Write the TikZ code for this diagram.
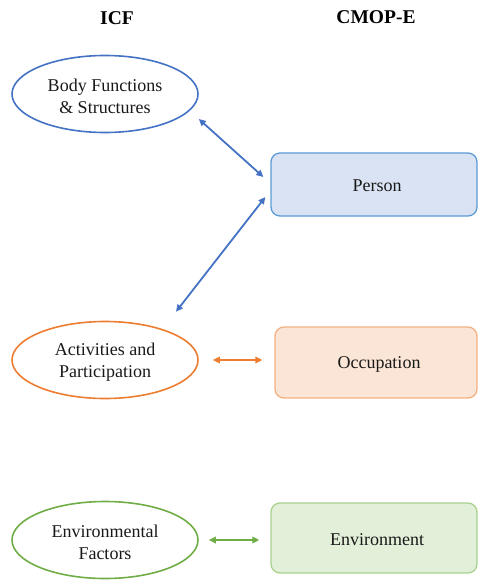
\documentclass[tikz,border=0pt]{standalone}
\usepackage{fontspec}
\setmainfont{Liberation Serif}
\usetikzlibrary{shapes.geometric,arrows.meta}
\definecolor{blueline}{HTML}{4472C4}
\definecolor{bluebox}{HTML}{DAE3F3}
\definecolor{blueedge}{HTML}{5B9BD5}
\definecolor{orangeline}{HTML}{ED7D31}
\definecolor{orangebox}{HTML}{FBE5D6}
\definecolor{orangeedge}{HTML}{F4B183}
\definecolor{greenline}{HTML}{70AD47}
\definecolor{greenbox}{HTML}{E2F0D9}
\definecolor{greenedge}{HTML}{A9D18E}
\tikzset{
  icf/.style={ellipse, draw, line width=1.6pt, minimum width=186pt, minimum height=77pt, inner sep=0pt, align=center, font=\fontsize{18}{22}\selectfont, text=black!90},
  cmop/.style={rectangle, draw, line width=1.3pt, rounded corners=9pt, inner sep=0pt, font=\fontsize{18}{22}\selectfont, text=black!90},
  title/.style={font=\fontsize{19.5}{23}\selectfont\bfseries},
  link/.style={line width=1.8pt, {Triangle[length=7pt,width=6.5pt]}-{Triangle[length=7pt,width=6.5pt]}}
}
\begin{document}
\begin{tikzpicture}[x=1pt,y=-1pt]
\clip (0,0) rectangle (478,580);
\useasboundingbox (0,0) rectangle (478,580);
\node[title] (ticf) at (117,18) {ICF};
\node[title] (tcmop) at (376,17) {CMOP-E};
\node[icf, draw=blueline] (b) at (105,94) {};
\node[align=center, font=\fontsize{18}{22}\selectfont, text=black!90] (bt) at (105,96) {Body Functions\\\& Structures};
\node[icf, draw=orangeline] (a) at (105,360) {};
\node[align=center, font=\fontsize{18}{22}\selectfont, text=black!90] (at) at (105,362) {Activities and\\Participation};
\node[icf, draw=greenline] (e) at (105,540) {};
\node[align=center, font=\fontsize{18}{22}\selectfont, text=black!90] (et) at (105,542) {Environmental\\Factors};
\node[cmop, draw=blueedge, fill=bluebox, minimum width=206pt, minimum height=63pt] (p) at (374,184.5) {};
\node[font=\fontsize{18}{22}\selectfont, text=black!90] (pt) at (377,186) {Person};
\node[cmop, draw=orangeedge, fill=orangebox, minimum width=202pt, minimum height=71pt] (o) at (376,362.5) {};
\node[font=\fontsize{18}{22}\selectfont, text=black!90] (ot) at (379,364) {Occupation};
\node[cmop, draw=greenedge, fill=greenbox, minimum width=206pt, minimum height=70pt] (v) at (374,538) {};
\node[font=\fontsize{18}{22}\selectfont, text=black!90] (vt) at (377,540) {Environment};
\draw[link, blueline] ([shift={(0,25)}]b.east) -- ([shift={(-7,-7.5)}]p.west);
\draw[link, blueline] ([shift={(71,-9)}]a.north) -- ([shift={(-5,12.5)}]p.west);
\draw[link, orangeline] ([xshift=14pt]a.east) -- ([xshift=-12pt]a.east -| o.west);
\draw[link, greenline] ([xshift=10pt]e.east) -- ([xshift=-11pt]e.east -| v.west);
\end{tikzpicture}
\end{document}
